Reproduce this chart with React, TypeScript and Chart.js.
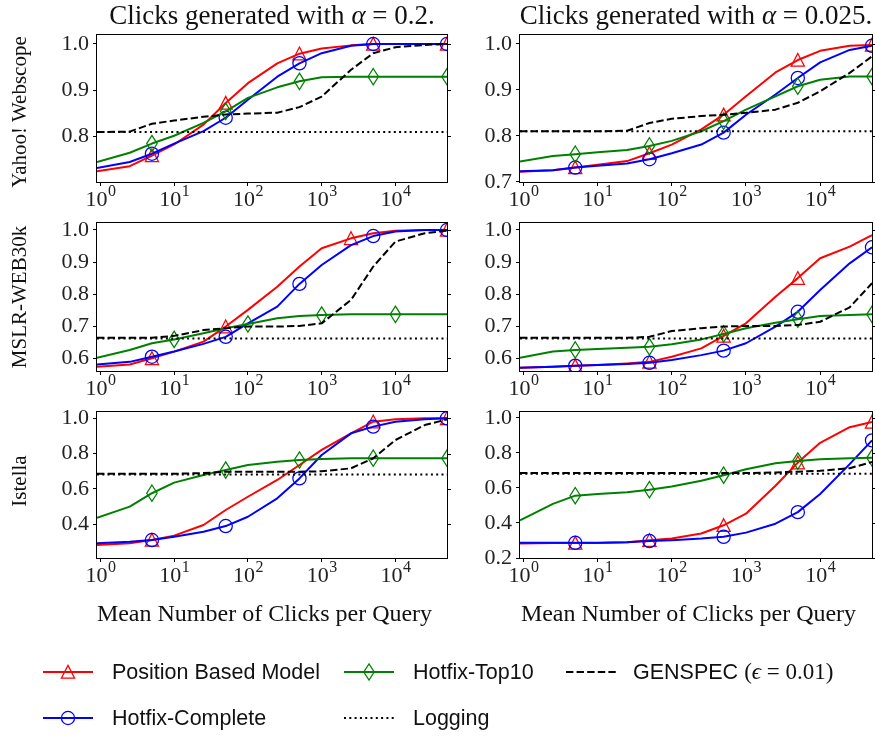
import React, { useEffect, useRef } from "react";
import { Chart, registerables } from "chart.js";
Chart.register(...registerables);

const SERIF = '"Liberation Serif", "DejaVu Serif", serif';
const SANS = '"Liberation Sans", "DejaVu Sans", sans-serif';
const RED = "#ff0000";
const BLUE = "#0000ff";
const GREEN = "#008000";
const BLACK = "#000000";

// ---------- data ----------
const clicks = [0.9, 2.5, 5, 10, 25, 50, 100, 250, 500, 1000, 2500, 5000, 10000, 25000, 50000];
const xTickValues = [1, 10, 100, 1000, 10000];
const xTickExponents = ["0", "1", "2", "3", "4"];
const rowNames = ["Yahoo! Webscope", "MSLR-WEB30k", "Istella"];
const alphaValues = ["0.2", "0.025"];
const xAxisTitle = "Mean Number of Clicks per Query";
const seriesNames = ["Position Based Model", "Hotfix-Complete", "Hotfix-Top10", "Logging", "GENSPEC"];
const defaultMarks = [5, 50, 500, 5000, 50000];

// Yahoo! Webscope, alpha = 0.2
const yahoo02PBM = [0.724, 0.735, 0.758, 0.782, 0.825, 0.872, 0.915, 0.958, 0.979, 0.99, 0.997, 1.0, 1.0, 1.0, 1.0];
const yahoo02Complete = [0.731, 0.744, 0.762, 0.784, 0.811, 0.84, 0.879, 0.929, 0.958, 0.98, 0.996, 1.0, 1.0, 1.0, 1.0];
const yahoo02Top10 = [0.744, 0.764, 0.784, 0.801, 0.829, 0.854, 0.883, 0.906, 0.919, 0.928, 0.929, 0.929, 0.929, 0.929, 0.929];
const yahoo02Genspec = [0.809, 0.81, 0.827, 0.834, 0.842, 0.847, 0.849, 0.851, 0.863, 0.886, 0.944, 0.98, 0.993, 0.998, 1.0];
const yahoo02Logging = 0.809;

// Yahoo! Webscope, alpha = 0.025
const yahoo0025PBM = [0.722, 0.725, 0.731, 0.737, 0.745, 0.762, 0.781, 0.814, 0.846, 0.886, 0.938, 0.965, 0.985, 0.996, 0.998];
const yahoo0025Complete = [0.723, 0.725, 0.731, 0.735, 0.74, 0.749, 0.762, 0.781, 0.807, 0.846, 0.89, 0.926, 0.96, 0.987, 0.996];
const yahoo0025Top10 = [0.744, 0.756, 0.76, 0.764, 0.769, 0.778, 0.789, 0.81, 0.832, 0.857, 0.886, 0.908, 0.922, 0.929, 0.929];
const yahoo0025Genspec = [0.81, 0.81, 0.81, 0.81, 0.811, 0.828, 0.837, 0.843, 0.846, 0.85, 0.857, 0.872, 0.897, 0.937, 0.973];
const yahoo0025Logging = 0.81;

// MSLR-WEB30k, alpha = 0.2
const mslr02PBM = [0.574, 0.581, 0.6, 0.621, 0.652, 0.699, 0.751, 0.823, 0.886, 0.943, 0.974, 0.99, 0.998, 1.0, 1.0];
const mslr02Complete = [0.581, 0.589, 0.605, 0.621, 0.645, 0.667, 0.709, 0.761, 0.832, 0.891, 0.953, 0.981, 0.995, 1.0, 1.0];
const mslr02Top10 = [0.602, 0.626, 0.647, 0.659, 0.678, 0.694, 0.707, 0.725, 0.732, 0.735, 0.737, 0.737, 0.737, 0.737, 0.737];
const mslr02Genspec = [0.664, 0.664, 0.664, 0.67, 0.688, 0.694, 0.699, 0.699, 0.701, 0.709, 0.782, 0.886, 0.964, 0.99, 0.998];
const mslr02Logging = 0.662;
const mslr02PBMMarks = [5, 50, 2500, 50000];
const mslr02Top10Marks = [10, 100, 1000, 10000];

// MSLR-WEB30k, alpha = 0.025
const mslr0025PBM = [0.571, 0.574, 0.577, 0.579, 0.584, 0.589, 0.605, 0.631, 0.67, 0.709, 0.792, 0.85, 0.912, 0.948, 0.984];
const mslr0025Complete = [0.571, 0.574, 0.577, 0.579, 0.582, 0.586, 0.595, 0.61, 0.624, 0.647, 0.699, 0.745, 0.813, 0.896, 0.946];
const mslr0025Top10 = [0.602, 0.621, 0.626, 0.629, 0.633, 0.636, 0.644, 0.659, 0.676, 0.694, 0.711, 0.722, 0.732, 0.735, 0.737];
const mslr0025Genspec = [0.664, 0.664, 0.664, 0.664, 0.664, 0.667, 0.685, 0.694, 0.699, 0.701, 0.701, 0.704, 0.714, 0.759, 0.834];
const mslr0025Logging = 0.662;
const mslr0025PBMMarks = [5, 50, 500, 5000];

// Istella, alpha = 0.2
const istella02PBM = [0.283, 0.293, 0.311, 0.336, 0.396, 0.481, 0.556, 0.651, 0.736, 0.821, 0.915, 0.981, 0.994, 1.0, 1.0];
const istella02Complete = [0.293, 0.302, 0.311, 0.33, 0.358, 0.39, 0.443, 0.547, 0.66, 0.792, 0.915, 0.953, 0.981, 0.994, 1.0];
const istella02Top10 = [0.437, 0.5, 0.576, 0.636, 0.679, 0.707, 0.736, 0.754, 0.764, 0.77, 0.774, 0.774, 0.774, 0.774, 0.774];
const istella02Genspec = [0.686, 0.686, 0.686, 0.686, 0.69, 0.698, 0.698, 0.698, 0.698, 0.7, 0.717, 0.774, 0.877, 0.962, 0.994];
const istella02Logging = 0.682;
const istella02PBMMarks = [5, 5000, 50000];

// Istella, alpha = 0.025
const istella0025PBM = [0.283, 0.286, 0.286, 0.286, 0.29, 0.302, 0.311, 0.34, 0.387, 0.453, 0.613, 0.745, 0.858, 0.947, 0.977];
const istella0025Complete = [0.287, 0.287, 0.287, 0.287, 0.29, 0.297, 0.302, 0.311, 0.321, 0.345, 0.396, 0.462, 0.566, 0.736, 0.872];
const istella0025Top10 = [0.415, 0.509, 0.556, 0.566, 0.575, 0.59, 0.609, 0.641, 0.673, 0.707, 0.741, 0.754, 0.764, 0.77, 0.772];
const istella0025Genspec = [0.685, 0.685, 0.685, 0.685, 0.685, 0.685, 0.685, 0.685, 0.685, 0.685, 0.689, 0.693, 0.698, 0.713, 0.748];
const istella0025Logging = 0.681;

// y axis ticks / limits
const topLeftTicks = [0.8, 0.9, 1.0];
const topRightTicks = [0.7, 0.8, 0.9, 1.0];
const midTicks = [0.6, 0.7, 0.8, 0.9, 1.0];
const botLeftTicks = [0.4, 0.6, 0.8, 1.0];
const botRightTicks = [0.2, 0.4, 0.6, 0.8, 1.0];

type PanelSpec = {
  box: number[]; // left, top, right, bottom of plotting area
  yMin: number;
  yMax: number;
  yTicks: number[];
  pbm: number[];
  complete: number[];
  top10: number[];
  genspec: number[];
  logging: number;
  pbmMarks: number[];
  completeMarks: number[];
  top10Marks: number[];
};

const panels: PanelSpec[] = [
  { box: [97, 35, 447, 182], yMin: 0.7006, yMax: 1.0195, yTicks: topLeftTicks, pbm: yahoo02PBM, complete: yahoo02Complete, top10: yahoo02Top10, genspec: yahoo02Genspec, logging: yahoo02Logging, pbmMarks: defaultMarks, completeMarks: defaultMarks, top10Marks: defaultMarks },
  { box: [520, 35, 872, 182], yMin: 0.6995, yMax: 1.0195, yTicks: topRightTicks, pbm: yahoo0025PBM, complete: yahoo0025Complete, top10: yahoo0025Top10, genspec: yahoo0025Genspec, logging: yahoo0025Logging, pbmMarks: defaultMarks, completeMarks: defaultMarks, top10Marks: defaultMarks },
  { box: [97, 223, 447, 371], yMin: 0.5605, yMax: 1.0218, yTicks: midTicks, pbm: mslr02PBM, complete: mslr02Complete, top10: mslr02Top10, genspec: mslr02Genspec, logging: mslr02Logging, pbmMarks: mslr02PBMMarks, completeMarks: defaultMarks, top10Marks: mslr02Top10Marks },
  { box: [520, 223, 872, 371], yMin: 0.5605, yMax: 1.0218, yTicks: midTicks, pbm: mslr0025PBM, complete: mslr0025Complete, top10: mslr0025Top10, genspec: mslr0025Genspec, logging: mslr0025Logging, pbmMarks: mslr0025PBMMarks, completeMarks: defaultMarks, top10Marks: defaultMarks },
  { box: [97, 412, 447, 558], yMin: 0.2094, yMax: 1.0357, yTicks: botLeftTicks, pbm: istella02PBM, complete: istella02Complete, top10: istella02Top10, genspec: istella02Genspec, logging: istella02Logging, pbmMarks: istella02PBMMarks, completeMarks: defaultMarks, top10Marks: defaultMarks },
  { box: [520, 412, 872, 558], yMin: 0.2, yMax: 1.034, yTicks: botRightTicks, pbm: istella0025PBM, complete: istella0025Complete, top10: istella0025Top10, genspec: istella0025Genspec, logging: istella0025Logging, pbmMarks: defaultMarks, completeMarks: defaultMarks, top10Marks: defaultMarks },
];

// ---------- marker drawing ----------
function markerPath(ctx: CanvasRenderingContext2D, kind: string, x: number, y: number) {
  ctx.beginPath();
  if (kind === "tri") {
    ctx.moveTo(x, y - 6.6);
    ctx.lineTo(x + 6.6, y + 6.2);
    ctx.lineTo(x - 6.6, y + 6.2);
    ctx.closePath();
  } else if (kind === "circle") {
    ctx.arc(x, y, 6.6, 0, Math.PI * 2);
  } else if (kind === "diamond") {
    ctx.moveTo(x, y - 8.2);
    ctx.lineTo(x + 5.2, y);
    ctx.lineTo(x, y + 8.2);
    ctx.lineTo(x - 5.2, y);
    ctx.closePath();
  }
}

const PAD_L = 60;
const PAD_B = 40;
const PAD_T = 6;
const PAD_R = 6;

const markerPlugin = {
  id: "markers",
  afterDatasetDraw(chart: any, args: any) {
    const ds = chart.data.datasets[args.index];
    if (!ds.markerKind) return;
    const { ctx, chartArea: a } = chart;
    ctx.save();
    ctx.beginPath();
    ctx.rect(a.left, a.top, a.right - a.left, a.bottom - a.top);
    ctx.clip();
    ctx.strokeStyle = ds.borderColor;
    ctx.lineWidth = 1.25;
    ctx.setLineDash([]);
    args.meta.data.forEach((el: any, i: number) => {
      if (!ds.markerAt.includes(clicks[i])) return;
      markerPath(ctx, ds.markerKind, el.x, el.y);
      ctx.stroke();
    });
    ctx.restore();
  },
};

const framePlugin = {
  id: "frame",
  afterDraw(chart: any) {
    const { ctx, chartArea: a, scales } = chart;
    ctx.save();
    ctx.strokeStyle = "#000";
    ctx.lineWidth = 1;
    ctx.strokeRect(a.left - 0.5, a.top - 0.5, a.right - a.left + 1, a.bottom - a.top + 1);
    // right-side tick marks
    const ys = scales.y;
    ys.ticks.forEach((t: any) => {
      const py = Math.round(ys.getPixelForValue(t.value)) + 0.5;
      ctx.beginPath();
      ctx.moveTo(a.right, py);
      ctx.lineTo(a.right + 4, py);
      ctx.stroke();
    });
    // x tick labels as 10^k
    const xs = scales.x;
    ctx.fillStyle = "#222";
    ctx.textBaseline = "alphabetic";
    ctx.textAlign = "left";
    xs.ticks.forEach((t: any, i: number) => {
      const px = xs.getPixelForValue(t.value);
      const exp = xTickExponents[i];
      ctx.font = `22px ${SERIF}`;
      const w1 = ctx.measureText("10").width;
      ctx.font = `16px ${SERIF}`;
      const w2 = ctx.measureText(exp).width;
      const start = px - (w1 + w2) / 2;
      ctx.font = `22px ${SERIF}`;
      ctx.fillText("10", start, a.bottom + 24);
      ctx.font = `16px ${SERIF}`;
      ctx.fillText(exp, start + w1 + 0.5, a.bottom + 14);
    });
    ctx.restore();
  },
};

function Panel({ spec }: { spec: PanelSpec }) {
  const ref = useRef<HTMLCanvasElement | null>(null);
  const [l, t, r, b] = spec.box;
  const width = r - l + PAD_L + PAD_R;
  const height = b - t + PAD_T + PAD_B;

  useEffect(() => {
    if (!ref.current) return;
    const pts = (arr: number[]) => clicks.map((c, i) => ({ x: c, y: arr[i] }));
    const base = { borderWidth: 2, borderJoinStyle: "round", borderCapStyle: "butt", tension: 0, clip: 0, pointRadius: 0 };
    const chart = new Chart(ref.current, {
      type: "line",
      data: {
        datasets: [
          { ...base, label: seriesNames[0], data: pts(spec.pbm), borderColor: RED, markerKind: "tri", markerAt: spec.pbmMarks, order: 5 },
          { ...base, label: seriesNames[1], data: pts(spec.complete), borderColor: BLUE, markerKind: "circle", markerAt: spec.completeMarks, order: 4 },
          { ...base, label: seriesNames[2], data: pts(spec.top10), borderColor: GREEN, markerKind: "diamond", markerAt: spec.top10Marks, order: 3 },
          { ...base, label: seriesNames[3], data: clicks.map((c) => ({ x: c, y: spec.logging })), borderColor: BLACK, borderDash: [2, 3.3], order: 2 },
          { ...base, label: seriesNames[4], data: pts(spec.genspec), borderColor: BLACK, borderDash: [7.4, 3.2], order: 1 },
        ] as any,
      },
      options: {
        animation: false,
        responsive: true,
        maintainAspectRatio: false,
        events: [],
        layout: { padding: { left: 0, top: PAD_T, right: PAD_R, bottom: 0 }, autoPadding: false },
        plugins: { legend: { display: false }, tooltip: { enabled: false } },
        scales: {
          x: {
            type: "logarithmic",
            min: 0.9,
            max: 50000,
            bounds: "data",
            afterBuildTicks: (s: any) => {
              s.ticks = xTickValues.map((v) => ({ value: v }));
            },
            ticks: { display: false },
            grid: { display: true, drawOnChartArea: false, drawTicks: true, tickLength: 4, color: "#000", lineWidth: 1 },
            border: { display: false },
            afterFit: (s: any) => {
              s.height = PAD_B;
              s.paddingLeft = 0;
              s.paddingRight = 0;
            },
          },
          y: {
            type: "linear",
            min: spec.yMin,
            max: spec.yMax,
            bounds: "data",
            afterBuildTicks: (s: any) => {
              s.ticks = spec.yTicks.map((v) => ({ value: v }));
            },
            ticks: {
              autoSkip: false,
              padding: 4,
              color: "#222",
              font: { family: SERIF, size: 22 },
              callback: (v: any) => Number(v).toFixed(1),
            },
            grid: { display: true, drawOnChartArea: false, drawTicks: true, tickLength: 4, color: "#000", lineWidth: 1 },
            border: { display: false },
            afterFit: (s: any) => {
              s.width = PAD_L;
              s.paddingTop = 0;
              s.paddingBottom = 0;
            },
          },
        },
      } as any,
      plugins: [markerPlugin, framePlugin],
    });
    return () => chart.destroy();
  }, [spec]);

  return (
    <div style={{ position: "absolute", left: l - PAD_L, top: t - PAD_T, width, height }}>
      <canvas ref={ref} />
    </div>
  );
}

function Handle({ x, y, color, dash, marker }: { x: number; y: number; color: string; dash?: string; marker?: string }) {
  const cx = x + 25;
  let m: any = null;
  if (marker === "tri") m = <polygon points={`${cx},${y - 6.6} ${cx + 6.6},${y + 6.2} ${cx - 6.6},${y + 6.2}`} fill="none" stroke={color} strokeWidth={1.25} />;
  if (marker === "circle") m = <circle cx={cx} cy={y} r={6.6} fill="none" stroke={color} strokeWidth={1.25} />;
  if (marker === "diamond") m = <polygon points={`${cx},${y - 8.2} ${cx + 5.2},${y} ${cx},${y + 8.2} ${cx - 5.2},${y}`} fill="none" stroke={color} strokeWidth={1.25} />;
  return (
    <g>
      <line x1={x} y1={y} x2={x + 50} y2={y} stroke={color} strokeWidth={2} strokeDasharray={dash} />
      {m}
    </g>
  );
}

function LegendText({ x, y, children }: { x: number; y: number; children: any }) {
  return (
    <div style={{ position: "absolute", left: x, top: y - 15, height: 30, display: "flex", alignItems: "center", whiteSpace: "nowrap", fontFamily: SANS, fontSize: 21.5, color: "#111" }}>
      {children}
    </div>
  );
}

export default function App() {
  const titleStyle = (cx: number): any => ({
    position: "absolute", left: cx - 300, width: 600, top: 2.4, textAlign: "center", fontFamily: SERIF, fontSize: 27, lineHeight: 1, color: "#111", whiteSpace: "nowrap",
  });
  const xlabStyle = (cx: number): any => ({
    position: "absolute", left: cx - 300, width: 600, top: 600.9, textAlign: "center", fontFamily: SERIF, fontSize: 24, lineHeight: 1, color: "#111", whiteSpace: "nowrap",
  });
  const ylabStyle = (cy: number): any => ({
    position: "absolute", left: 19 - 150, top: cy - 15, width: 300, height: 30, lineHeight: "30px", textAlign: "center", fontFamily: SERIF, fontSize: 21, color: "#111", transform: "rotate(-90deg)", whiteSpace: "nowrap",
  });
  return (
    <div style={{ position: "absolute", left: 0, top: 0, width: 875, height: 737, overflow: "hidden", background: "#fff" }}>
      {panels.map((p, i) => (
        <Panel key={i} spec={p} />
      ))}
      <div style={titleStyle(272)}>
        Clicks generated with <i>α</i> = {alphaValues[0]}.
      </div>
      <div style={titleStyle(696)}>
        Clicks generated with <i>α</i> = {alphaValues[1]}.
      </div>
      <div style={ylabStyle(112)}>{rowNames[0]}</div>
      <div style={ylabStyle(297)}>{rowNames[1]}</div>
      <div style={ylabStyle(481)}>{rowNames[2]}</div>
      <div style={xlabStyle(264.5)}>{xAxisTitle}</div>
      <div style={xlabStyle(688.5)}>{xAxisTitle}</div>
      <svg style={{ position: "absolute", left: 0, top: 0 }} width={875} height={737}>
        <Handle x={43} y={672} color={RED} marker="tri" />
        <Handle x={43} y={718} color={BLUE} marker="circle" />
        <Handle x={344} y={672} color={GREEN} marker="diamond" />
        <Handle x={344} y={718} color={BLACK} dash="2 3.3" />
        <Handle x={566} y={672} color={BLACK} dash="7.4 3.2" />
      </svg>
      <LegendText x={112} y={672}>{seriesNames[0]}</LegendText>
      <LegendText x={112} y={718}>{seriesNames[1]}</LegendText>
      <LegendText x={413} y={672}>{seriesNames[2]}</LegendText>
      <LegendText x={413} y={718}>{seriesNames[3]}</LegendText>
      <LegendText x={633} y={672}>
        {seriesNames[4]}&nbsp;<span style={{ fontFamily: SERIF, fontSize: 23 }}>(<i>ϵ</i> = 0.01)</span>
      </LegendText>
    </div>
  );
}
